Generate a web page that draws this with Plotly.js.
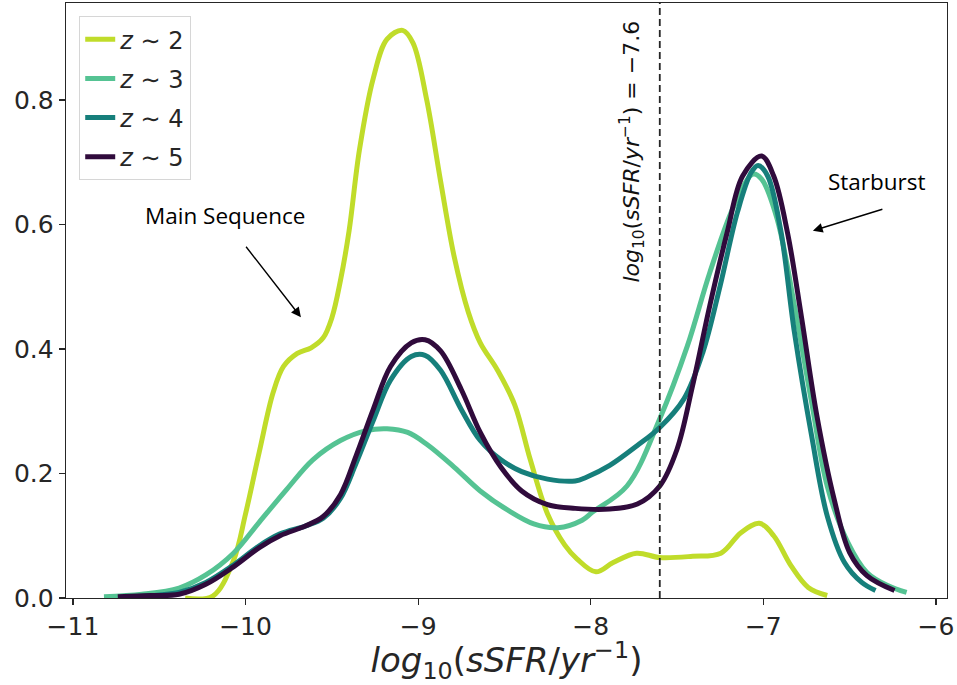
<!DOCTYPE html>
<html>
<head>
<meta charset="utf-8">
<script src="https://cdn.plot.ly/plotly-3.0.1.min.js"></script>
<style>
  html, body { margin: 0; padding: 0; background: #ffffff; }
  #chart { width: 957px; height: 685px; }
</style>
</head>
<body>
<div id="chart"></div>
<script>
// KDE of log10 specific star formation rate, one curve per redshift bin
const seriesNames = ["z ∼ 2", "z ∼ 3", "z ∼ 4", "z ∼ 5"];
const seriesColors = ["#c0dc2a", "#55c393", "#167f7b", "#300b3c"];

const xZ2 = [-10.35, -10.19, -10.07, -10.0, -9.92, -9.84, -9.78, -9.70, -9.62, -9.55, -9.50, -9.45, -9.40, -9.34, -9.26, -9.18, -9.09, -9.03, -8.95, -8.87, -8.79, -8.71, -8.64, -8.54, -8.44, -8.35, -8.25, -8.15, -8.08, -7.97, -7.87, -7.735, -7.6, -7.41, -7.246, -7.13, -7.023, -6.94, -6.84, -6.74, -6.63];
const yZ2 = [0.0, 0.003, 0.06, 0.135, 0.235, 0.33, 0.372, 0.393, 0.402, 0.418, 0.45, 0.51, 0.59, 0.72, 0.835, 0.898, 0.912, 0.892, 0.80, 0.67, 0.547, 0.46, 0.41, 0.366, 0.31, 0.222, 0.135, 0.085, 0.063, 0.042, 0.057, 0.072, 0.065, 0.067, 0.072, 0.105, 0.12, 0.10, 0.052, 0.017, 0.004];

const xZ3 = [-10.82, -10.6, -10.385, -10.23, -10.07, -9.92, -9.76, -9.61, -9.45, -9.30, -9.18, -9.06, -8.95, -8.79, -8.64, -8.48, -8.33, -8.19, -8.05, -7.99, -7.79, -7.60, -7.44, -7.31, -7.17, -7.06, -7.01, -6.92, -6.82, -6.72, -6.63, -6.51, -6.40, -6.28, -6.17];
const yZ3 = [0.002, 0.006, 0.016, 0.037, 0.072, 0.122, 0.175, 0.222, 0.253, 0.269, 0.272, 0.266, 0.247, 0.21, 0.172, 0.141, 0.119, 0.113, 0.125, 0.138, 0.18, 0.288, 0.405, 0.523, 0.63, 0.681, 0.673, 0.609, 0.47, 0.314, 0.18, 0.089, 0.041, 0.02, 0.009];

const xZ4 = [-10.65, -10.5, -10.385, -10.23, -10.07, -9.92, -9.80, -9.65, -9.55, -9.45, -9.36, -9.26, -9.16, -9.04, -8.96, -8.87, -8.75, -8.64, -8.52, -8.40, -8.25, -8.09, -8.025, -7.89, -7.73, -7.60, -7.46, -7.35, -7.25, -7.15, -7.07, -7.03, -6.975, -6.90, -6.82, -6.72, -6.63, -6.53, -6.43, -6.35];
const yZ4 = [0.002, 0.005, 0.009, 0.025, 0.053, 0.084, 0.103, 0.116, 0.128, 0.16, 0.216, 0.285, 0.35, 0.388, 0.39, 0.366, 0.303, 0.253, 0.222, 0.203, 0.191, 0.188, 0.194, 0.213, 0.245, 0.274, 0.32, 0.395, 0.502, 0.62, 0.684, 0.695, 0.678, 0.592, 0.427, 0.26, 0.132, 0.057, 0.025, 0.012];

const xZ5 = [-10.74, -10.55, -10.385, -10.23, -10.07, -9.92, -9.80, -9.65, -9.55, -9.45, -9.36, -9.26, -9.16, -9.04, -8.96, -8.87, -8.75, -8.64, -8.52, -8.40, -8.25, -8.09, -7.89, -7.73, -7.60, -7.50, -7.41, -7.31, -7.21, -7.12, -7.01, -6.94, -6.86, -6.78, -6.69, -6.59, -6.50, -6.40, -6.24];
const yZ5 = [0.002, 0.004, 0.006, 0.022, 0.05, 0.081, 0.10, 0.116, 0.131, 0.166, 0.228, 0.303, 0.372, 0.41, 0.415, 0.397, 0.335, 0.266, 0.21, 0.172, 0.15, 0.144, 0.143, 0.151, 0.18, 0.239, 0.341, 0.47, 0.587, 0.678, 0.71, 0.678, 0.587, 0.453, 0.293, 0.159, 0.073, 0.036, 0.012];

const xSeries = [xZ2, xZ3, xZ4, xZ5];
const ySeries = [yZ2, yZ3, yZ4, yZ5];

const xTicks = [-11, -10, -9, -8, -7, -6];
const yTicks = [0.0, 0.2, 0.4, 0.6, 0.8];
const threshold = -7.6;

const traces = seriesNames.map((name, i) => ({
  type: "scatter",
  mode: "lines",
  x: xSeries[i],
  y: ySeries[i],
  name: name.replace("z", "<i>z</i>"),
  legendgroup: "g" + i,
  line: { color: seriesColors[i], width: 5, shape: "spline", smoothing: 1 },
  hoverinfo: "skip"
}));

const axisCommon = {
  showgrid: false,
  zeroline: false,
  showline: true,
  mirror: true,
  linecolor: "#262626",
  linewidth: 1.3,
  ticks: "outside",
  ticklen: 6,
  tickwidth: 1.2,
  tickcolor: "#262626",
  tickfont: { family: "DejaVu Sans", size: 25, color: "#262626" }
};

const layout = {
  width: 957,
  height: 685,
  margin: { l: 66, r: 10, t: 3, b: 87 },
  paper_bgcolor: "#ffffff",
  plot_bgcolor: "#ffffff",
  showlegend: true,
  legend: {
    x: 0.015, y: 0.978, xanchor: "left", yanchor: "top",
    bgcolor: "#ffffff",
    bordercolor: "#d6d6d6",
    borderwidth: 1,
    tracegroupgap: 5,
    font: { family: "DejaVu Sans", size: 24, color: "#262626" }
  },
  xaxis: Object.assign({}, axisCommon, {
    range: [-11.04, -5.936],
    tickvals: xTicks,
    ticktext: xTicks.map(v => String(v).replace("-", "−")),
    title: {
      text: "<i>log</i><sub>10</sub>(<i>sSFR</i>/<i>yr</i><sup>−1</sup>)",
      font: { family: "DejaVu Sans", size: 34, color: "#262626" },
      standoff: 10
    }
  }),
  yaxis: Object.assign({}, axisCommon, {
    range: [0, 0.956],
    tickvals: yTicks,
    ticktext: yTicks.map(v => v.toFixed(1))
  }),
  shapes: [{
    type: "line", xref: "x", yref: "paper",
    x0: threshold, x1: threshold, y0: 0, y1: 1,
    line: { color: "#262626", width: 1.8, dash: "7px,4px" }
  }],
  annotations: [
    {
      xref: "x", yref: "paper", x: threshold, y: 0.75,
      xanchor: "right", yanchor: "middle", xshift: -10,
      text: "<i>log</i><sub>10</sub>(<i>sSFR</i>/<i>yr</i><sup>−1</sup>) = −" + Math.abs(threshold),
      textangle: -90, showarrow: false,
      font: { family: "DejaVu Sans", size: 22, color: "#111111" }
    },
    {
      xref: "x", yref: "y", x: -10.119, y: 0.614,
      text: "Main Sequence", showarrow: false,
      font: { family: "Open Sans", size: 22.5, color: "#000000" }
    },
    {
      xref: "x", yref: "y", x: -9.679, y: 0.451,
      axref: "pixel", ayref: "pixel", ax: -56, ay: -72,
      text: "", showarrow: true, arrowhead: 2, arrowsize: 1.4,
      arrowwidth: 1.4, arrowcolor: "#000000"
    },
    {
      xref: "x", yref: "y", x: -6.342, y: 0.67,
      text: "Starburst", showarrow: false,
      font: { family: "Open Sans", size: 22.5, color: "#000000" }
    },
    {
      xref: "x", yref: "y", x: -6.713, y: 0.59,
      axref: "pixel", ayref: "pixel", ax: 71, ay: -22,
      text: "", showarrow: true, arrowhead: 2, arrowsize: 1.4,
      arrowwidth: 1.4, arrowcolor: "#000000"
    }
  ]
};

Plotly.newPlot("chart", traces, layout, { displayModeBar: false, staticPlot: true });
</script>
</body>
</html>
